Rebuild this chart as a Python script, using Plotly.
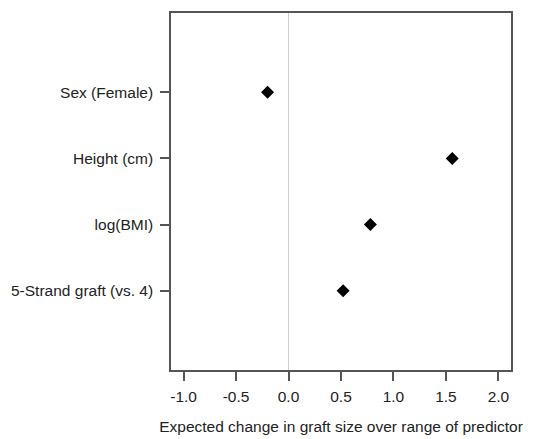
import plotly.graph_objects as go

categories = ["5-Strand graft (vs. 4)", "log(BMI)", "Height (cm)", "Sex (Female)"]
values = [0.52, 0.78, 1.56, -0.20]
x_ticks = [-1.0, -0.5, 0.0, 0.5, 1.0, 1.5, 2.0]
x_tick_labels = ["-1.0", "-0.5", "0.0", "0.5", "1.0", "1.5", "2.0"]

font_family = "Liberation Sans, Arial, sans-serif"
text_color = "#222222"
frame_color = "#555555"

fig = go.Figure()
fig.add_trace(go.Scatter(
    x=values, y=categories, mode="markers",
    marker=dict(symbol="diamond", size=10, color="black"),
    showlegend=False, hoverinfo="x+y",
))

fig.update_layout(
    width=548, height=439,
    margin=dict(l=161, r=45, t=3, b=77),
    paper_bgcolor="white", plot_bgcolor="white",
    font=dict(family=font_family, size=15.5, color=text_color),
)
fig.update_xaxes(
    range=[-1.12, 2.12],
    tickvals=x_ticks, ticktext=x_tick_labels,
    ticks="outside", ticklen=9, tickwidth=1.5, tickcolor=frame_color,
    showline=True, linecolor=frame_color, linewidth=1.5, mirror=True,
    showgrid=False,
    zeroline=True, zerolinecolor="#cccccc", zerolinewidth=1.2,
    tickfont=dict(size=15.5, color=text_color),
    ticklabelstandoff=3,
    title=dict(text="Expected change in graft size over range of predictor",
               font=dict(size=15.5, color=text_color), standoff=17),
)
fig.update_yaxes(
    type="category", categoryorder="array", categoryarray=categories,
    range=[-1.2, 4.2],
    ticks="outside", ticklen=9, tickwidth=1.5, tickcolor=frame_color,
    showline=True, linecolor=frame_color, linewidth=1.5, mirror=True,
    showgrid=False,
    tickfont=dict(size=15.5, color=text_color),
    ticklabelstandoff=4,
)

fig.write_html("out.html")
